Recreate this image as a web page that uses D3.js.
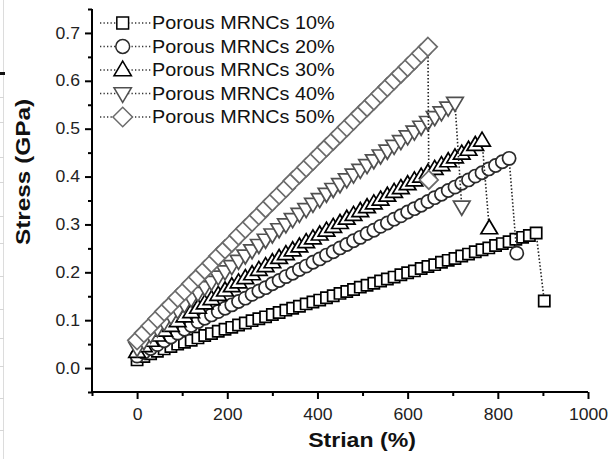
<!DOCTYPE html>
<html><head><meta charset="utf-8">
<script src="https://cdn.jsdelivr.net/npm/d3@7/dist/d3.min.js"></script>
<style>body{margin:0;background:#fff}svg{display:block}</style>
</head><body>
<svg id="c" width="612" height="459"></svg>
<script>
// ---------- data ----------
const seriesNames = ["Porous MRNCs 10%","Porous MRNCs 20%","Porous MRNCs 30%","Porous MRNCs 40%","Porous MRNCs 50%"];
const strainSteps = [0,15,30,45,60,75,90,105,120,135,150,165,180,195,210,225,240,255,270,285,300,315,330,345,360,375,390,405,420,435,450,465,480,495,510,525,540,555,570,585,600,615,630,645,660,675,690,705,720,735,750,765,780,795,810,825,840,855,870,885];
const stress10 = [0.017,0.024,0.030,0.035,0.040,0.045,0.050,0.054,0.058,0.063,0.068,0.072,0.077,0.081,0.085,0.090,0.094,0.099,0.103,0.107,0.112,0.116,0.121,0.125,0.129,0.134,0.138,0.142,0.147,0.151,0.156,0.160,0.164,0.169,0.173,0.177,0.182,0.186,0.190,0.195,0.199,0.203,0.208,0.212,0.216,0.221,0.225,0.229,0.234,0.238,0.243,0.247,0.251,0.256,0.260,0.264,0.269,0.273,0.277,0.282];
const stress20 = [0.025,0.033,0.041,0.049,0.057,0.065,0.073,0.081,0.089,0.097,0.104,0.111,0.118,0.125,0.132,0.139,0.146,0.154,0.161,0.168,0.176,0.183,0.191,0.198,0.206,0.213,0.221,0.228,0.236,0.243,0.251,0.258,0.266,0.273,0.281,0.288,0.296,0.303,0.311,0.318,0.326,0.333,0.340,0.348,0.356,0.363,0.371,0.378,0.386,0.393,0.401,0.408,0.416,0.423,0.431,0.438];
const stress30 = [0.034,0.046,0.057,0.068,0.078,0.088,0.098,0.108,0.117,0.126,0.135,0.144,0.153,0.162,0.171,0.179,0.188,0.196,0.205,0.213,0.221,0.230,0.238,0.246,0.254,0.263,0.271,0.279,0.287,0.295,0.303,0.312,0.320,0.328,0.336,0.344,0.352,0.360,0.368,0.376,0.384,0.392,0.400,0.408,0.416,0.424,0.432,0.440,0.448,0.456,0.466,0.475];
const stress40 = [0.042,0.056,0.070,0.083,0.096,0.109,0.121,0.133,0.145,0.157,0.169,0.180,0.191,0.202,0.213,0.224,0.235,0.246,0.257,0.268,0.279,0.290,0.300,0.311,0.322,0.332,0.343,0.353,0.364,0.374,0.384,0.394,0.404,0.414,0.424,0.434,0.444,0.454,0.464,0.474,0.484,0.494,0.504,0.514,0.524,0.534,0.544,0.554];
const stress50 = [0.058,0.073,0.088,0.103,0.118,0.132,0.147,0.161,0.176,0.190,0.205,0.219,0.234,0.248,0.262,0.277,0.291,0.305,0.319,0.334,0.348,0.362,0.376,0.391,0.405,0.419,0.433,0.447,0.461,0.475,0.489,0.503,0.517,0.531,0.545,0.559,0.573,0.587,0.601,0.615,0.629,0.643,0.657,0.671];
// failure (drop) points: strain, stress
const breakStrain = [903,842,781,720,647];
const breakStress = [0.140,0.240,0.292,0.337,0.393];
const xTicks = [0,200,400,600,800,1000];
const yTicks = [0.0,0.1,0.2,0.3,0.4,0.5,0.6,0.7];
const xLabel = "Strian (%)";
const yLabel = "Stress (GPa)";

const stressSets = [stress10,stress20,stress30,stress40,stress50];
const colors = ["#000","#2a2a2a","#000","#505050","#6b6b6b"];
const shapes = ["square","circle","up","down","diamond"];

// ---------- drawing ----------
const svg = d3.select("#c");
const FONT = "'Liberation Sans', Arial, sans-serif";
const SX = 1.1;

// faint sheet remnants at left edge
const edge = svg.append("g");
edge.append("line").attr("x1",3.5).attr("x2",3.5).attr("y1",0).attr("y2",459).attr("stroke","#dcdcdc").attr("stroke-width",1);
[97,122,157,182,216,243,276,309,338,366,398,430].forEach(v=>{
  edge.append("line").attr("x1",0).attr("x2",4).attr("y1",v+0.5).attr("y2",v+0.5).attr("stroke","#d6d6d6");
});
edge.append("rect").attr("x",0).attr("y",72).attr("width",5).attr("height",3).attr("fill","#111");

const x = d3.scaleLinear().domain([-100,1000]).range([92,588]);
const y = d3.scaleLinear().domain([-0.05,0.75]).range([392,9]);

function stretchText(sel, sx){
  sel.each(function(){
    const t = d3.select(this);
    const tx = +t.attr("x")||0;
    t.attr("transform", `translate(${tx},0) scale(${sx},1) translate(${-tx},0)`);
  });
}

// axes
const yAxis = d3.axisLeft(y).tickValues(yTicks).tickSize(7).tickPadding(5).tickFormat(d3.format(".1f"));
const yMinor = d3.axisLeft(y).tickValues([-0.05,0.05,0.15,0.25,0.35,0.45,0.55,0.65,0.75]).tickSize(4).tickFormat("");
const xAxis = d3.axisBottom(x).tickValues(xTicks).tickSize(7).tickPadding(6).tickFormat(d3.format("d"));
const xMinor = d3.axisBottom(x).tickValues([-100,100,300,500,700,900]).tickSize(4).tickFormat("");

const gy = svg.append("g").attr("transform","translate(92,0)").call(yAxis);
svg.append("g").attr("transform","translate(92,0)").call(yMinor);
const gx = svg.append("g").attr("transform","translate(0,392)").call(xAxis);
svg.append("g").attr("transform","translate(0,392)").call(xMinor);
svg.selectAll(".domain").attr("stroke","#000").attr("stroke-width",2).attr("d",null);
svg.selectAll(".tick line").attr("stroke","#000").attr("stroke-width",2);
svg.selectAll(".tick text").attr("font-family",FONT).attr("font-size",16).attr("fill","#222");
// axis lines
svg.append("line").attr("x1",x(-100)).attr("x2",x(-100)).attr("y1",y(0.75)).attr("y2",y(-0.05)+1).attr("stroke","#000").attr("stroke-width",2);
svg.append("line").attr("x1",x(-100)-1).attr("x2",x(1000)).attr("y1",y(-0.05)).attr("y2",y(-0.05)).attr("stroke","#000").attr("stroke-width",2);
gy.selectAll(".tick text").call(s=>stretchText(s,SX));
gx.selectAll(".tick text").attr("dy","0.95em").call(s=>stretchText(s,SX));

// axis titles
svg.append("text").attr("transform",`translate(362,447) scale(${SX},1)`)
  .attr("text-anchor","middle").attr("font-family",FONT).attr("font-weight","bold").attr("font-size",21).attr("fill","#111").text(xLabel);
svg.append("text").attr("transform",`translate(30,172) rotate(-90) scale(${SX+0.06},1)`)
  .attr("text-anchor","middle").attr("font-family",FONT).attr("font-weight","bold").attr("font-size",21).attr("fill","#111").text(yLabel);

// marker paths
function markerPath(shape, k){
  k = k||1;
  if(shape==="square"){const h=5.6*k;return `M${-h},${-h}H${h}V${h}H${-h}Z`;}
  if(shape==="circle"){const r=6.6*k;return `M${r},0A${r},${r} 0 1,1 ${-r},0A${r},${r} 0 1,1 ${r},0Z`;}
  if(shape==="up"){const w=8.3*k,t=8.5*k,b=5.5*k;return `M0,${-t}L${w},${b}L${-w},${b}Z`;}
  if(shape==="down"){const w=8.3*k,t=8.5*k,b=5.5*k;return `M0,${t}L${w},${-b}L${-w},${-b}Z`;}
  const d=9.3*k;return `M0,${-d}L${d},0L0,${d}L${-d},0Z`;
}

const plot = svg.append("g");
stressSets.forEach((vals,i)=>{
  const pts = vals.map((v,j)=>({sx:strainSteps[j], sy:v}));
  const all = pts.concat([{sx:breakStrain[i], sy:breakStress[i]}]);
  const g = plot.append("g");
  g.append("path").datum(all)
    .attr("d", d3.line().x(d=>x(d.sx)).y(d=>y(d.sy)))
    .attr("fill","none").attr("stroke","#222").attr("stroke-width",1.6).attr("stroke-dasharray","1.5,2");
  g.selectAll("path.m").data(all).join("path").attr("class","m")
    .attr("transform",d=>`translate(${x(d.sx)},${y(d.sy)})`)
    .attr("d",markerPath(shapes[i]))
    .attr("fill","#fff").attr("stroke",colors[i]).attr("stroke-width",1.7);
});

// legend
const leg = svg.append("g");
seriesNames.forEach((name,i)=>{
  const base = 29.3 + 23.5*i;
  const cy = base - 6.3;
  leg.append("line").attr("x1",100).attr("x2",151).attr("y1",cy).attr("y2",cy)
    .attr("stroke","#333").attr("stroke-width",1.3).attr("stroke-dasharray","1.3,2.2");
  leg.append("path").attr("transform",`translate(122.7,${cy})`).attr("d",markerPath(shapes[i],1.05))
    .attr("fill","#fff").attr("stroke",colors[i]).attr("stroke-width",1.5);
  leg.append("text").attr("transform",`translate(152,${base}) scale(${SX},1)`)
    .attr("font-family",FONT).attr("font-size",18).attr("fill","#111").text(name);
});
</script>
</body></html>
